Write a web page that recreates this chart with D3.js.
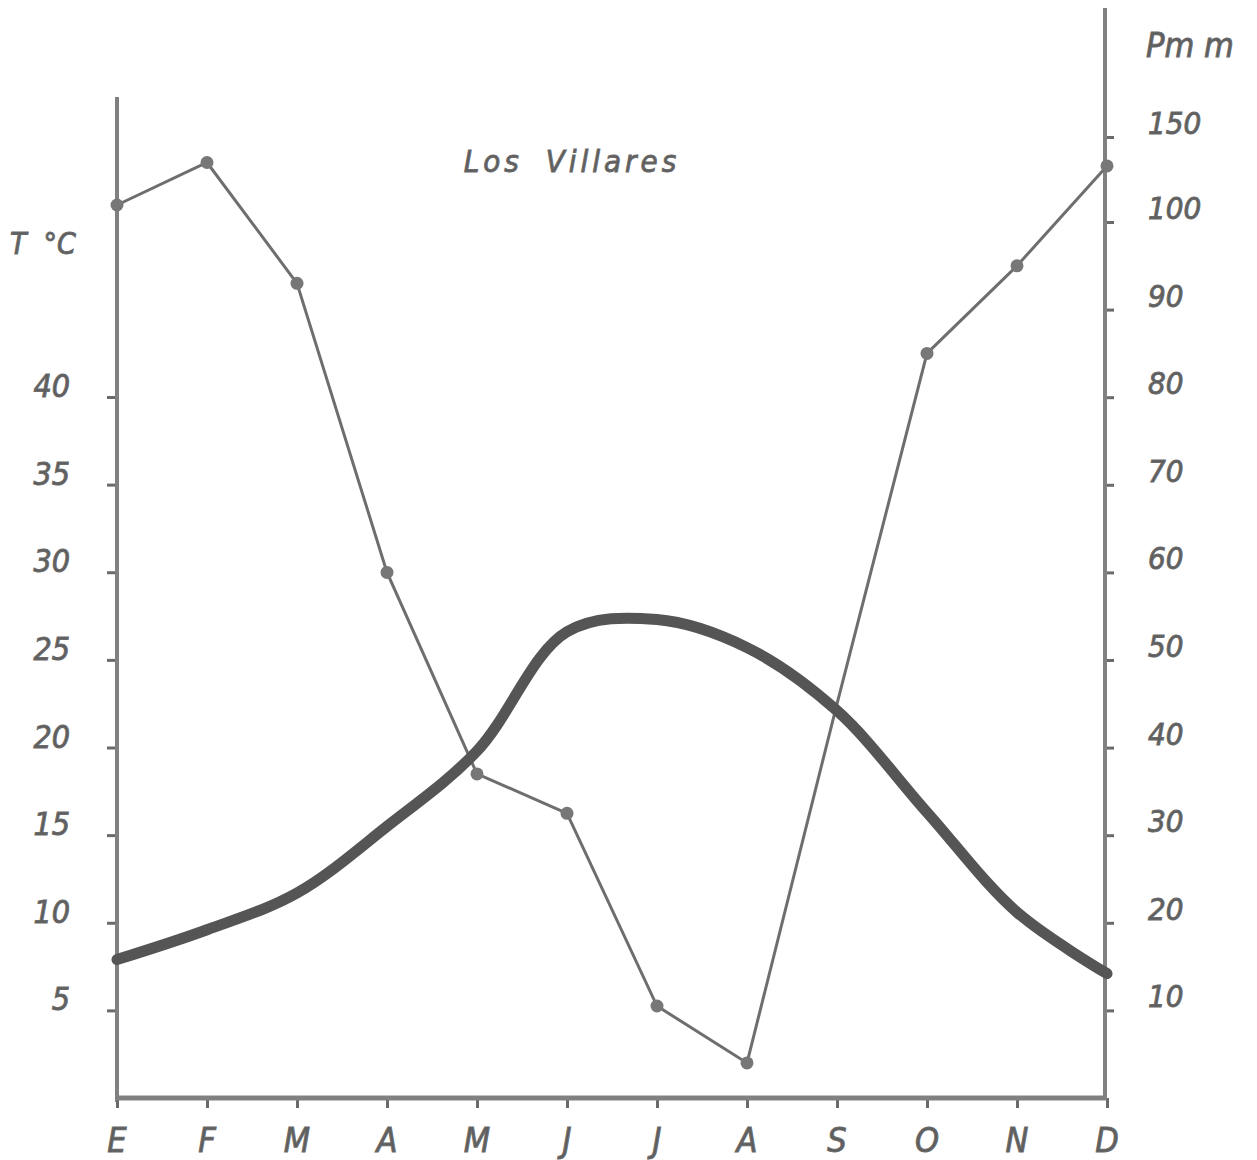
<!DOCTYPE html>
<html>
<head>
<meta charset="utf-8">
<script src="https://cdn.jsdelivr.net/npm/d3@7"></script>
<style>
  body { margin: 0; background: #fff; }
  svg text { font-family: "DejaVu Sans Condensed", "DejaVu Sans", sans-serif; font-style: italic; fill: #5e5e5e; stroke: #6a6a6a; stroke-width: 0.9px; }
</style>
</head>
<body>
<svg id="chart" width="1257" height="1160"></svg>
<script>
// data
let months = ['E', 'F', 'M', 'A', 'M', 'J', 'J', 'A', 'S', 'O', 'N', 'D']
let temperature = [7.9, 9.6, 11.7, 15.5, 19.8, 26.6, 27.3, 25.7, 22.1, 16.3, 10.6, 7.1]
let precipitation = [110, 135, 93, 60, 37, 32.5, 10.5, 4, 45, 85, 95, 133]
let precipMarked = [true, true, true, true, true, true, true, true, false, true, true, true]
let tempTicks = [5, 10, 15, 20, 25, 30, 35, 40]
let precipTicks = [10, 20, 30, 40, 50, 60, 70, 80, 90, 100, 150]

let svg = d3.select('#chart')
let ink = '#6a6a6a'

// scales
let x = d3.scalePoint().domain(d3.range(12)).range([117, 1107])
let yT = d3.scaleLinear().domain([0, 40]).range([1098, 397])
// broken scale above 100 mm
let yP = d3.scaleLinear().domain([0, 100, 150]).range([1098, 222, 137])

// axes
let leftAxis = d3.axisLeft(yT).tickValues(tempTicks).tickSize(10).tickFormat('')
let gl = svg.append('g').attr('transform', 'translate(117,0)').call(leftAxis)
gl.select('.domain').remove()
gl.selectAll('.tick line').attr('stroke', ink).attr('stroke-width', 3)
svg.append('line').attr('x1', 117).attr('x2', 117).attr('y1', 97).attr('y2', 1102)
    .attr('stroke', '#808080').attr('stroke-width', 4)

let rightAxis = d3.axisRight(yP).tickValues(precipTicks).tickSize(9).tickFormat('')
let gr = svg.append('g').attr('transform', 'translate(1105,0)').call(rightAxis)
gr.select('.domain').remove()
gr.selectAll('.tick line').attr('stroke', ink).attr('stroke-width', 3)
svg.append('line').attr('x1', 1105).attr('x2', 1105).attr('y1', 8).attr('y2', 1100)
    .attr('stroke', '#808080').attr('stroke-width', 4)

let bottomAxis = d3.axisBottom(x).tickSize(10).tickFormat('')
let gb = svg.append('g').attr('transform', 'translate(0,1098)').call(bottomAxis)
gb.select('.domain').remove()
gb.selectAll('.tick line').attr('stroke', ink).attr('stroke-width', 3)
svg.append('line').attr('x1', 115).attr('x2', 1107).attr('y1', 1098).attr('y2', 1098)
    .attr('stroke', '#808080').attr('stroke-width', 5)

// tick labels
svg.append('g').selectAll('text').data(tempTicks).enter().append('text')
    .attr('x', 70).attr('y', d => yT(d) - 0)
    .attr('text-anchor', 'end').attr('font-size', 32)
    .text(d => d)
svg.append('g').selectAll('text').data(precipTicks).enter().append('text')
    .attr('x', 1148).attr('y', d => yP(d) - 3)
    .attr('font-size', 31)
    .text(d => d)
svg.append('g').selectAll('text').data(months).enter().append('text')
    .attr('x', (d, i) => x(i)).attr('y', 1152)
    .attr('text-anchor', 'middle').attr('font-size', 34)
    .text(d => d)

// titles
svg.append('text').attr('x', 10).attr('y', 254).attr('font-size', 30).attr('xml:space', 'preserve').text('T  °C')
svg.append('text').attr('x', 1146).attr('y', 57).attr('font-size', 34).text('Pm m')
svg.append('text').attr('x', 572).attr('y', 172).attr('text-anchor', 'middle')
    .attr('font-size', 31).attr('letter-spacing', 4).attr('word-spacing', 10).text('Los Villares')

// precipitation
let pLine = d3.line().x((d, i) => x(i)).y(d => yP(d))
svg.append('path').datum(precipitation)
    .attr('d', pLine).attr('fill', 'none')
    .attr('stroke', '#6e6e6e').attr('stroke-width', 3)
svg.append('g').selectAll('circle').data(precipitation).enter()
    .filter((d, i) => precipMarked[i])
    .append('circle')
    .attr('cx', d => x(precipitation.indexOf(d)))
    .attr('cy', d => yP(d))
    .attr('r', 6.5).attr('fill', '#777')

// temperature
let tLine = d3.line().x((d, i) => x(i)).y(d => yT(d)).curve(d3.curveCatmullRom)
svg.append('path').datum(temperature)
    .attr('d', tLine).attr('fill', 'none')
    .attr('stroke', '#555').attr('stroke-width', 11).attr('stroke-linecap', 'round')
</script>
</body>
</html>
